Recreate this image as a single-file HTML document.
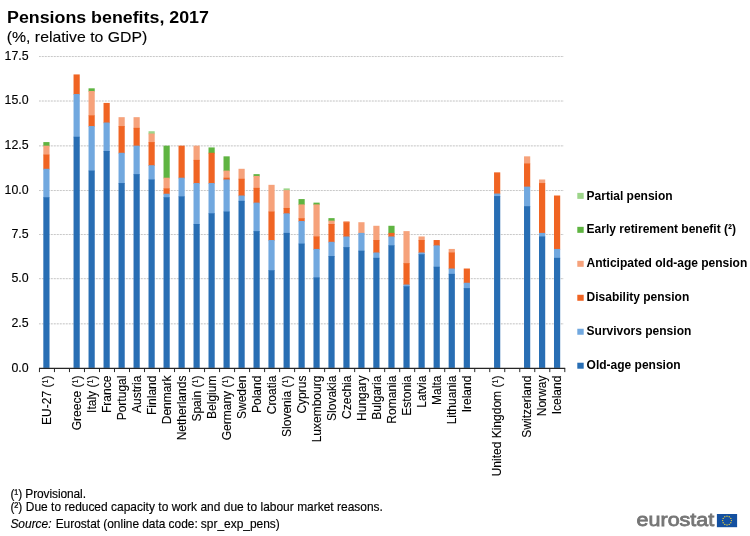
<!DOCTYPE html>
<html><head><meta charset="utf-8"><title>Pensions benefits, 2017</title>
<style>
html,body{margin:0;padding:0;background:#fff;}
body{width:750px;height:536px;overflow:hidden;font-family:"Liberation Sans",sans-serif;}
svg{display:block;will-change:transform;}
text{font-family:"Liberation Sans",sans-serif;fill:#000;}
.ax{font-size:12.0px;stroke:#000;stroke-width:0.12px;}
.ay{font-size:12.4px;stroke:#000;stroke-width:0.12px;}
.lg{font-size:12px;font-weight:bold;}
.ti{font-size:16px;font-weight:bold;}
.st{font-size:14.8px;stroke:#000;stroke-width:0.12px;}
.fn{font-size:11.95px;stroke:#000;stroke-width:0.15px;}
.logo{font-size:18.7px;fill:#757575;stroke:#757575;stroke-width:0.8px;}
</style></head><body>
<svg width="750" height="536" viewBox="0 0 750 536">
<rect width="750" height="536" fill="#fff"/>
<line x1="39.0" x2="564.0" y1="323.82" y2="323.82" stroke="#eeeeee" stroke-width="0.9"/>
<line x1="39.0" x2="564.0" y1="323.82" y2="323.82" stroke="#bebebe" stroke-width="0.8" stroke-dasharray="1.7 1.3"/>
<line x1="39.0" x2="564.0" y1="278.66" y2="278.66" stroke="#eeeeee" stroke-width="0.9"/>
<line x1="39.0" x2="564.0" y1="278.66" y2="278.66" stroke="#bebebe" stroke-width="0.8" stroke-dasharray="1.7 1.3"/>
<line x1="39.0" x2="564.0" y1="234.52" y2="234.52" stroke="#eeeeee" stroke-width="0.9"/>
<line x1="39.0" x2="564.0" y1="234.52" y2="234.52" stroke="#bebebe" stroke-width="0.8" stroke-dasharray="1.7 1.3"/>
<line x1="39.0" x2="564.0" y1="190.53" y2="190.53" stroke="#eeeeee" stroke-width="0.9"/>
<line x1="39.0" x2="564.0" y1="190.53" y2="190.53" stroke="#bebebe" stroke-width="0.8" stroke-dasharray="1.7 1.3"/>
<line x1="39.0" x2="564.0" y1="145.89" y2="145.89" stroke="#eeeeee" stroke-width="0.9"/>
<line x1="39.0" x2="564.0" y1="145.89" y2="145.89" stroke="#bebebe" stroke-width="0.8" stroke-dasharray="1.7 1.3"/>
<line x1="39.0" x2="564.0" y1="101.00" y2="101.00" stroke="#eeeeee" stroke-width="0.9"/>
<line x1="39.0" x2="564.0" y1="101.00" y2="101.00" stroke="#bebebe" stroke-width="0.8" stroke-dasharray="1.7 1.3"/>
<line x1="39.0" x2="564.0" y1="56.53" y2="56.53" stroke="#eeeeee" stroke-width="0.9"/>
<line x1="39.0" x2="564.0" y1="56.53" y2="56.53" stroke="#bebebe" stroke-width="0.8" stroke-dasharray="1.7 1.3"/>
<text x="28.7" y="371.50" text-anchor="end" class="ay">0.0</text>
<text x="28.7" y="327.02" text-anchor="end" class="ay">2.5</text>
<text x="28.7" y="281.86" text-anchor="end" class="ay">5.0</text>
<text x="28.7" y="237.72" text-anchor="end" class="ay">7.5</text>
<text x="28.7" y="193.73" text-anchor="end" class="ay">10.0</text>
<text x="28.7" y="149.09" text-anchor="end" class="ay">12.5</text>
<text x="28.7" y="104.20" text-anchor="end" class="ay">15.0</text>
<text x="28.7" y="59.73" text-anchor="end" class="ay">17.5</text>
<rect x="43.32" y="142.09" width="6.2" height="4.26" fill="#5FB441"/>
<rect x="43.32" y="145.66" width="6.2" height="9.60" fill="#F6A27B"/>
<rect x="43.32" y="154.56" width="6.2" height="14.94" fill="#F06423"/>
<rect x="43.32" y="168.80" width="6.2" height="29.19" fill="#71A8DF"/>
<rect x="43.32" y="197.29" width="6.2" height="170.61" fill="#286EB4"/>
<text transform="translate(50.50,375.6) rotate(-90)" text-anchor="end" class="ax">EU-27 (¹)</text>
<rect x="73.54" y="74.43" width="6.2" height="20.29" fill="#F06423"/>
<rect x="73.54" y="94.02" width="6.2" height="43.43" fill="#71A8DF"/>
<rect x="73.54" y="136.75" width="6.2" height="231.15" fill="#286EB4"/>
<text transform="translate(80.52,375.6) rotate(-90)" text-anchor="end" class="ax">Greece (¹)</text>
<rect x="88.54" y="88.32" width="6.2" height="3.37" fill="#5FB441"/>
<rect x="88.54" y="90.99" width="6.2" height="25.09" fill="#F6A27B"/>
<rect x="88.54" y="115.38" width="6.2" height="11.38" fill="#F06423"/>
<rect x="88.54" y="126.07" width="6.2" height="45.21" fill="#71A8DF"/>
<rect x="88.54" y="170.58" width="6.2" height="197.32" fill="#286EB4"/>
<text transform="translate(95.53,375.6) rotate(-90)" text-anchor="end" class="ax">Italy (¹)</text>
<rect x="103.53" y="102.92" width="6.2" height="20.29" fill="#F06423"/>
<rect x="103.53" y="122.51" width="6.2" height="29.19" fill="#71A8DF"/>
<rect x="103.53" y="151.00" width="6.2" height="216.90" fill="#286EB4"/>
<text transform="translate(110.54,375.6) rotate(-90)" text-anchor="end" class="ax">France</text>
<rect x="118.53" y="117.17" width="6.2" height="9.60" fill="#F6A27B"/>
<rect x="118.53" y="126.07" width="6.2" height="27.41" fill="#F06423"/>
<rect x="118.53" y="152.78" width="6.2" height="30.97" fill="#71A8DF"/>
<rect x="118.53" y="183.05" width="6.2" height="184.85" fill="#286EB4"/>
<text transform="translate(125.55,375.6) rotate(-90)" text-anchor="end" class="ax">Portugal</text>
<rect x="133.53" y="117.17" width="6.2" height="11.38" fill="#F6A27B"/>
<rect x="133.53" y="127.85" width="6.2" height="18.51" fill="#F06423"/>
<rect x="133.53" y="145.66" width="6.2" height="29.19" fill="#71A8DF"/>
<rect x="133.53" y="174.14" width="6.2" height="193.76" fill="#286EB4"/>
<text transform="translate(140.56,375.6) rotate(-90)" text-anchor="end" class="ax">Austria</text>
<rect x="148.52" y="131.23" width="6.2" height="3.01" fill="#9DD58A"/>
<rect x="148.52" y="133.55" width="6.2" height="9.25" fill="#F6A27B"/>
<rect x="148.52" y="142.09" width="6.2" height="23.85" fill="#F06423"/>
<rect x="148.52" y="165.24" width="6.2" height="14.94" fill="#71A8DF"/>
<rect x="148.52" y="179.49" width="6.2" height="188.41" fill="#286EB4"/>
<text transform="translate(155.57,375.6) rotate(-90)" text-anchor="end" class="ax">Finland</text>
<rect x="163.52" y="145.66" width="6.2" height="32.75" fill="#5FB441"/>
<rect x="163.52" y="177.71" width="6.2" height="11.38" fill="#F6A27B"/>
<rect x="163.52" y="188.39" width="6.2" height="6.04" fill="#F06423"/>
<rect x="163.52" y="193.73" width="6.2" height="4.26" fill="#71A8DF"/>
<rect x="163.52" y="197.29" width="6.2" height="170.61" fill="#286EB4"/>
<text transform="translate(170.58,375.6) rotate(-90)" text-anchor="end" class="ax">Denmark</text>
<rect x="178.52" y="145.66" width="6.2" height="32.75" fill="#F06423"/>
<rect x="178.52" y="177.71" width="6.2" height="19.40" fill="#71A8DF"/>
<rect x="178.52" y="196.40" width="6.2" height="171.50" fill="#286EB4"/>
<text transform="translate(185.59,375.6) rotate(-90)" text-anchor="end" class="ax">Netherlands</text>
<rect x="193.51" y="145.66" width="6.2" height="14.94" fill="#F6A27B"/>
<rect x="193.51" y="159.90" width="6.2" height="23.85" fill="#F06423"/>
<rect x="193.51" y="183.05" width="6.2" height="41.65" fill="#71A8DF"/>
<rect x="193.51" y="224.00" width="6.2" height="143.90" fill="#286EB4"/>
<text transform="translate(200.60,375.6) rotate(-90)" text-anchor="end" class="ax">Spain (¹)</text>
<rect x="208.51" y="147.44" width="6.2" height="6.04" fill="#5FB441"/>
<rect x="208.51" y="152.78" width="6.2" height="30.97" fill="#F06423"/>
<rect x="208.51" y="183.05" width="6.2" height="30.97" fill="#71A8DF"/>
<rect x="208.51" y="213.32" width="6.2" height="154.58" fill="#286EB4"/>
<text transform="translate(215.61,375.6) rotate(-90)" text-anchor="end" class="ax">Belgium</text>
<rect x="223.51" y="156.34" width="6.2" height="14.94" fill="#5FB441"/>
<rect x="223.51" y="170.58" width="6.2" height="7.82" fill="#F6A27B"/>
<rect x="223.51" y="177.71" width="6.2" height="2.48" fill="#F06423"/>
<rect x="223.51" y="179.49" width="6.2" height="32.75" fill="#71A8DF"/>
<rect x="223.51" y="211.54" width="6.2" height="156.36" fill="#286EB4"/>
<text transform="translate(230.62,375.6) rotate(-90)" text-anchor="end" class="ax">Germany (¹)</text>
<rect x="238.50" y="168.80" width="6.2" height="10.67" fill="#F6A27B"/>
<rect x="238.50" y="178.77" width="6.2" height="17.44" fill="#F06423"/>
<rect x="238.50" y="195.51" width="6.2" height="6.04" fill="#71A8DF"/>
<rect x="238.50" y="200.85" width="6.2" height="167.05" fill="#286EB4"/>
<text transform="translate(245.63,375.6) rotate(-90)" text-anchor="end" class="ax">Sweden</text>
<rect x="253.50" y="174.14" width="6.2" height="2.48" fill="#5FB441"/>
<rect x="253.50" y="175.93" width="6.2" height="12.63" fill="#F6A27B"/>
<rect x="253.50" y="187.86" width="6.2" height="15.48" fill="#F06423"/>
<rect x="253.50" y="202.63" width="6.2" height="29.19" fill="#71A8DF"/>
<rect x="253.50" y="231.12" width="6.2" height="136.78" fill="#286EB4"/>
<text transform="translate(260.64,375.6) rotate(-90)" text-anchor="end" class="ax">Poland</text>
<rect x="268.43" y="184.83" width="6.2" height="27.41" fill="#F6A27B"/>
<rect x="268.43" y="211.54" width="6.2" height="29.19" fill="#F06423"/>
<rect x="268.43" y="240.03" width="6.2" height="30.97" fill="#71A8DF"/>
<rect x="268.43" y="270.30" width="6.2" height="97.60" fill="#286EB4"/>
<text transform="translate(275.65,375.6) rotate(-90)" text-anchor="end" class="ax">Croatia</text>
<rect x="283.55" y="188.39" width="6.2" height="2.48" fill="#9DD58A"/>
<rect x="283.55" y="190.17" width="6.2" height="18.51" fill="#F6A27B"/>
<rect x="283.55" y="207.98" width="6.2" height="6.04" fill="#F06423"/>
<rect x="283.55" y="213.32" width="6.2" height="20.29" fill="#71A8DF"/>
<rect x="283.55" y="232.90" width="6.2" height="135.00" fill="#286EB4"/>
<text transform="translate(290.66,375.6) rotate(-90)" text-anchor="end" class="ax">Slovenia (¹)</text>
<rect x="298.51" y="199.07" width="6.2" height="6.04" fill="#5FB441"/>
<rect x="298.51" y="204.41" width="6.2" height="14.59" fill="#F6A27B"/>
<rect x="298.51" y="218.30" width="6.2" height="3.37" fill="#F06423"/>
<rect x="298.51" y="220.97" width="6.2" height="23.31" fill="#71A8DF"/>
<rect x="298.51" y="243.59" width="6.2" height="124.31" fill="#286EB4"/>
<text transform="translate(305.67,375.6) rotate(-90)" text-anchor="end" class="ax">Cyprus</text>
<rect x="313.46" y="202.63" width="6.2" height="2.48" fill="#5FB441"/>
<rect x="313.46" y="204.41" width="6.2" height="32.75" fill="#F6A27B"/>
<rect x="313.46" y="236.47" width="6.2" height="13.16" fill="#F06423"/>
<rect x="313.46" y="248.93" width="6.2" height="29.19" fill="#71A8DF"/>
<rect x="313.46" y="277.42" width="6.2" height="90.48" fill="#286EB4"/>
<text transform="translate(320.68,375.6) rotate(-90)" text-anchor="end" class="ax">Luxembourg</text>
<rect x="328.42" y="218.13" width="6.2" height="3.19" fill="#5FB441"/>
<rect x="328.42" y="220.62" width="6.2" height="4.08" fill="#F6A27B"/>
<rect x="328.42" y="224.00" width="6.2" height="18.51" fill="#F06423"/>
<rect x="328.42" y="241.81" width="6.2" height="14.94" fill="#71A8DF"/>
<rect x="328.42" y="256.05" width="6.2" height="111.85" fill="#286EB4"/>
<text transform="translate(335.69,375.6) rotate(-90)" text-anchor="end" class="ax">Slovakia</text>
<rect x="343.37" y="221.15" width="6.2" height="1.77" fill="#F6A27B"/>
<rect x="343.37" y="222.22" width="6.2" height="14.94" fill="#F06423"/>
<rect x="343.37" y="236.47" width="6.2" height="11.38" fill="#71A8DF"/>
<rect x="343.37" y="247.15" width="6.2" height="120.75" fill="#286EB4"/>
<text transform="translate(350.70,375.6) rotate(-90)" text-anchor="end" class="ax">Czechia</text>
<rect x="358.33" y="222.22" width="6.2" height="11.38" fill="#F6A27B"/>
<rect x="358.33" y="232.90" width="6.2" height="18.51" fill="#71A8DF"/>
<rect x="358.33" y="250.71" width="6.2" height="117.19" fill="#286EB4"/>
<text transform="translate(365.71,375.6) rotate(-90)" text-anchor="end" class="ax">Hungary</text>
<rect x="373.30" y="225.78" width="6.2" height="14.94" fill="#F6A27B"/>
<rect x="373.30" y="240.03" width="6.2" height="13.16" fill="#F06423"/>
<rect x="373.30" y="252.49" width="6.2" height="6.04" fill="#71A8DF"/>
<rect x="373.30" y="257.83" width="6.2" height="110.07" fill="#286EB4"/>
<text transform="translate(380.72,375.6) rotate(-90)" text-anchor="end" class="ax">Bulgaria</text>
<rect x="388.37" y="225.78" width="6.2" height="7.82" fill="#5FB441"/>
<rect x="388.37" y="232.90" width="6.2" height="4.26" fill="#F06423"/>
<rect x="388.37" y="236.47" width="6.2" height="9.60" fill="#71A8DF"/>
<rect x="388.37" y="245.37" width="6.2" height="122.53" fill="#286EB4"/>
<text transform="translate(395.73,375.6) rotate(-90)" text-anchor="end" class="ax">Romania</text>
<rect x="403.44" y="231.12" width="6.2" height="32.75" fill="#F6A27B"/>
<rect x="403.44" y="263.17" width="6.2" height="22.07" fill="#F06423"/>
<rect x="403.44" y="284.54" width="6.2" height="2.48" fill="#71A8DF"/>
<rect x="403.44" y="286.32" width="6.2" height="81.58" fill="#286EB4"/>
<text transform="translate(410.74,375.6) rotate(-90)" text-anchor="end" class="ax">Estonia</text>
<rect x="418.51" y="236.47" width="6.2" height="4.26" fill="#F6A27B"/>
<rect x="418.51" y="240.03" width="6.2" height="13.16" fill="#F06423"/>
<rect x="418.51" y="252.49" width="6.2" height="2.48" fill="#71A8DF"/>
<rect x="418.51" y="254.27" width="6.2" height="113.63" fill="#286EB4"/>
<text transform="translate(425.75,375.6) rotate(-90)" text-anchor="end" class="ax">Latvia</text>
<rect x="433.59" y="240.03" width="6.2" height="6.04" fill="#F06423"/>
<rect x="433.59" y="245.37" width="6.2" height="22.07" fill="#71A8DF"/>
<rect x="433.59" y="266.74" width="6.2" height="101.16" fill="#286EB4"/>
<text transform="translate(440.76,375.6) rotate(-90)" text-anchor="end" class="ax">Malta</text>
<rect x="448.66" y="248.93" width="6.2" height="4.26" fill="#F6A27B"/>
<rect x="448.66" y="252.49" width="6.2" height="16.73" fill="#F06423"/>
<rect x="448.66" y="268.52" width="6.2" height="6.04" fill="#71A8DF"/>
<rect x="448.66" y="273.86" width="6.2" height="94.04" fill="#286EB4"/>
<text transform="translate(455.77,375.6) rotate(-90)" text-anchor="end" class="ax">Lithuania</text>
<rect x="463.73" y="268.52" width="6.2" height="14.94" fill="#F06423"/>
<rect x="463.73" y="282.76" width="6.2" height="6.04" fill="#71A8DF"/>
<rect x="463.73" y="288.10" width="6.2" height="79.80" fill="#286EB4"/>
<text transform="translate(470.78,375.6) rotate(-90)" text-anchor="end" class="ax">Ireland</text>
<rect x="494.05" y="172.36" width="6.2" height="21.89" fill="#F06423"/>
<rect x="494.05" y="193.55" width="6.2" height="3.19" fill="#71A8DF"/>
<rect x="494.05" y="196.05" width="6.2" height="171.85" fill="#286EB4"/>
<text transform="translate(500.80,375.6) rotate(-90)" text-anchor="end" class="ax">United Kingdom (¹)</text>
<rect x="524.02" y="156.34" width="6.2" height="7.82" fill="#F6A27B"/>
<rect x="524.02" y="163.46" width="6.2" height="23.85" fill="#F06423"/>
<rect x="524.02" y="186.61" width="6.2" height="20.29" fill="#71A8DF"/>
<rect x="524.02" y="206.20" width="6.2" height="161.70" fill="#286EB4"/>
<text transform="translate(530.82,375.6) rotate(-90)" text-anchor="end" class="ax">Switzerland</text>
<rect x="539.01" y="179.49" width="6.2" height="4.26" fill="#F6A27B"/>
<rect x="539.01" y="183.05" width="6.2" height="50.56" fill="#F06423"/>
<rect x="539.01" y="232.90" width="6.2" height="4.26" fill="#71A8DF"/>
<rect x="539.01" y="236.47" width="6.2" height="131.43" fill="#286EB4"/>
<text transform="translate(545.83,375.6) rotate(-90)" text-anchor="end" class="ax">Norway</text>
<rect x="553.99" y="195.51" width="6.2" height="54.12" fill="#F06423"/>
<rect x="553.99" y="248.93" width="6.2" height="9.60" fill="#71A8DF"/>
<rect x="553.99" y="257.83" width="6.2" height="110.07" fill="#286EB4"/>
<text transform="translate(560.84,375.6) rotate(-90)" text-anchor="end" class="ax">Iceland</text>
<line x1="39" x2="565.2" y1="368.34" y2="368.34" stroke="#262626" stroke-width="1.1"/>
<line x1="39.45" x2="39.45" y1="368.3" y2="372.1" stroke="#262626" stroke-width="1"/>
<line x1="54.46" x2="54.46" y1="368.3" y2="372.1" stroke="#262626" stroke-width="1"/>
<line x1="69.47" x2="69.47" y1="368.3" y2="372.1" stroke="#262626" stroke-width="1"/>
<line x1="84.48" x2="84.48" y1="368.3" y2="372.1" stroke="#262626" stroke-width="1"/>
<line x1="99.49" x2="99.49" y1="368.3" y2="372.1" stroke="#262626" stroke-width="1"/>
<line x1="114.50" x2="114.50" y1="368.3" y2="372.1" stroke="#262626" stroke-width="1"/>
<line x1="129.51" x2="129.51" y1="368.3" y2="372.1" stroke="#262626" stroke-width="1"/>
<line x1="144.52" x2="144.52" y1="368.3" y2="372.1" stroke="#262626" stroke-width="1"/>
<line x1="159.53" x2="159.53" y1="368.3" y2="372.1" stroke="#262626" stroke-width="1"/>
<line x1="174.54" x2="174.54" y1="368.3" y2="372.1" stroke="#262626" stroke-width="1"/>
<line x1="189.55" x2="189.55" y1="368.3" y2="372.1" stroke="#262626" stroke-width="1"/>
<line x1="204.56" x2="204.56" y1="368.3" y2="372.1" stroke="#262626" stroke-width="1"/>
<line x1="219.57" x2="219.57" y1="368.3" y2="372.1" stroke="#262626" stroke-width="1"/>
<line x1="234.58" x2="234.58" y1="368.3" y2="372.1" stroke="#262626" stroke-width="1"/>
<line x1="249.59" x2="249.59" y1="368.3" y2="372.1" stroke="#262626" stroke-width="1"/>
<line x1="264.60" x2="264.60" y1="368.3" y2="372.1" stroke="#262626" stroke-width="1"/>
<line x1="279.61" x2="279.61" y1="368.3" y2="372.1" stroke="#262626" stroke-width="1"/>
<line x1="294.62" x2="294.62" y1="368.3" y2="372.1" stroke="#262626" stroke-width="1"/>
<line x1="309.63" x2="309.63" y1="368.3" y2="372.1" stroke="#262626" stroke-width="1"/>
<line x1="324.64" x2="324.64" y1="368.3" y2="372.1" stroke="#262626" stroke-width="1"/>
<line x1="339.65" x2="339.65" y1="368.3" y2="372.1" stroke="#262626" stroke-width="1"/>
<line x1="354.66" x2="354.66" y1="368.3" y2="372.1" stroke="#262626" stroke-width="1"/>
<line x1="369.67" x2="369.67" y1="368.3" y2="372.1" stroke="#262626" stroke-width="1"/>
<line x1="384.68" x2="384.68" y1="368.3" y2="372.1" stroke="#262626" stroke-width="1"/>
<line x1="399.69" x2="399.69" y1="368.3" y2="372.1" stroke="#262626" stroke-width="1"/>
<line x1="414.70" x2="414.70" y1="368.3" y2="372.1" stroke="#262626" stroke-width="1"/>
<line x1="429.71" x2="429.71" y1="368.3" y2="372.1" stroke="#262626" stroke-width="1"/>
<line x1="444.72" x2="444.72" y1="368.3" y2="372.1" stroke="#262626" stroke-width="1"/>
<line x1="459.73" x2="459.73" y1="368.3" y2="372.1" stroke="#262626" stroke-width="1"/>
<line x1="474.74" x2="474.74" y1="368.3" y2="372.1" stroke="#262626" stroke-width="1"/>
<line x1="489.75" x2="489.75" y1="368.3" y2="372.1" stroke="#262626" stroke-width="1"/>
<line x1="504.76" x2="504.76" y1="368.3" y2="372.1" stroke="#262626" stroke-width="1"/>
<line x1="519.77" x2="519.77" y1="368.3" y2="372.1" stroke="#262626" stroke-width="1"/>
<line x1="534.78" x2="534.78" y1="368.3" y2="372.1" stroke="#262626" stroke-width="1"/>
<line x1="549.79" x2="549.79" y1="368.3" y2="372.1" stroke="#262626" stroke-width="1"/>
<line x1="564.80" x2="564.80" y1="368.3" y2="372.1" stroke="#262626" stroke-width="1"/>
<rect x="577.3" y="192.87" width="6.4" height="6.0" fill="#9DD58A"/>
<text x="586.6" y="199.52" class="lg">Partial pension</text>
<rect x="577.3" y="226.84" width="6.4" height="6.0" fill="#5FB441"/>
<text x="586.6" y="233.49" class="lg">Early retirement benefit (²)</text>
<rect x="577.3" y="260.81" width="6.4" height="6.0" fill="#F6A27B"/>
<text x="586.6" y="267.46" class="lg">Anticipated old-age pension</text>
<rect x="577.3" y="294.78" width="6.4" height="6.0" fill="#F06423"/>
<text x="586.6" y="301.43" class="lg">Disability pension</text>
<rect x="577.3" y="328.75" width="6.4" height="6.0" fill="#71A8DF"/>
<text x="586.6" y="335.40" class="lg">Survivors pension</text>
<rect x="577.3" y="362.72" width="6.4" height="6.0" fill="#286EB4"/>
<text x="586.6" y="369.37" class="lg">Old-age pension</text>
<text x="7.0" y="22.75" class="ti" textLength="201.9" lengthAdjust="spacingAndGlyphs">Pensions benefits, 2017</text>
<text x="6.8" y="41.5" class="st" textLength="140.4" lengthAdjust="spacingAndGlyphs">(%, relative to GDP)</text>
<text x="10.4" y="497.6" class="fn" letter-spacing="-0.09">(¹) Provisional.</text>
<text x="10.4" y="511.2" class="fn" word-spacing="0.13">(²) Due to reduced capacity to work and due to labour market reasons.</text>
<text x="10.4" y="528.2" class="fn"><tspan font-style="italic">Source:</tspan><tspan dx="1.0" word-spacing="-0.2"> Eurostat (online data code: spr_exp_pens)</tspan></text>
<text x="636.6" y="526.2" class="logo" textLength="77.6" lengthAdjust="spacingAndGlyphs">eurostat</text>
<rect x="716.9" y="514.0" width="20.2" height="13.2" fill="#1450a0"/>
<circle cx="727.00" cy="516.20" r="0.7" fill="#e8cf3a"/>
<circle cx="729.20" cy="516.79" r="0.7" fill="#e8cf3a"/>
<circle cx="730.81" cy="518.40" r="0.7" fill="#e8cf3a"/>
<circle cx="731.40" cy="520.60" r="0.7" fill="#e8cf3a"/>
<circle cx="730.81" cy="522.80" r="0.7" fill="#e8cf3a"/>
<circle cx="729.20" cy="524.41" r="0.7" fill="#e8cf3a"/>
<circle cx="727.00" cy="525.00" r="0.7" fill="#e8cf3a"/>
<circle cx="724.80" cy="524.41" r="0.7" fill="#e8cf3a"/>
<circle cx="723.19" cy="522.80" r="0.7" fill="#e8cf3a"/>
<circle cx="722.60" cy="520.60" r="0.7" fill="#e8cf3a"/>
<circle cx="723.19" cy="518.40" r="0.7" fill="#e8cf3a"/>
<circle cx="724.80" cy="516.79" r="0.7" fill="#e8cf3a"/>
</svg>
</body></html>
